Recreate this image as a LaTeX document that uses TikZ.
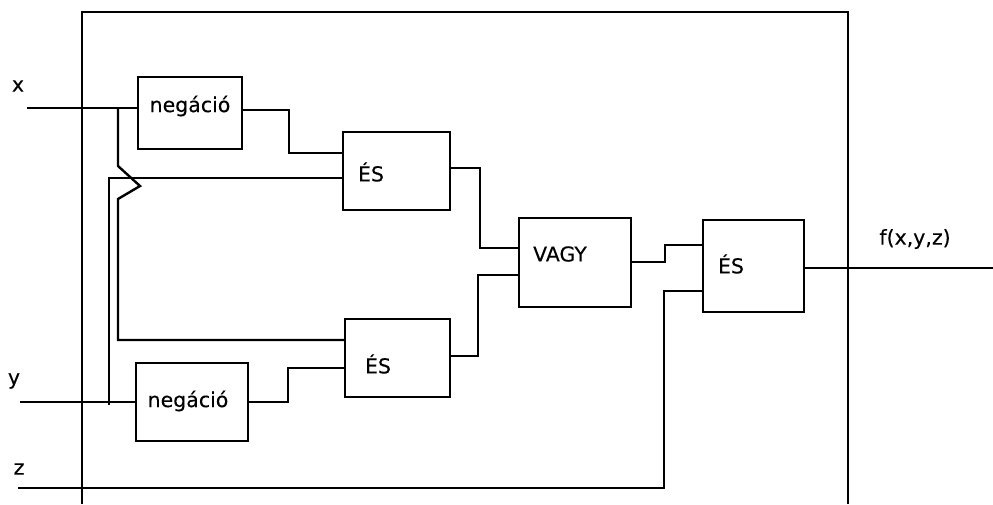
\documentclass[tikz,border=0pt]{standalone}
\usepackage{fontspec}
\setmainfont{DejaVu Sans}
\tikzset{
  x=1pt,y=-1pt,
  gate/.style={draw=black,line width=2.5pt,fill=none,inner sep=0pt,outer sep=0pt},
  wire/.style={draw=black,line width=2.4pt,line join=miter},
  thinwire/.style={draw=black,line width=1.3pt},
  lab/.style={inner sep=0pt,outer sep=0pt,font=\fontsize{20.5}{24}\selectfont\addfontfeature{FakeBold=0.2},text=black}
}
\newcommand{\gatebox}[5]{%
  \node[gate,minimum width=#4pt-#2pt,minimum height=#5pt-#3pt] (#1) at ({(#2+#4)/2},{(#3+#5)/2}) {};
}
\begin{document}
\begin{tikzpicture}
\useasboundingbox (0,0) rectangle (993,504);
% frame
\coordinate (fbl) at (82,504); \coordinate (ftl) at (82,12);
\coordinate (ftr) at (848,12); \coordinate (fbr) at (848,504);
\draw[wire,line width=2.5pt] (fbl) -- (ftl) -- (ftr) -- (fbr);
% boxes
\gatebox{negA}{138}{77}{242}{149}
\gatebox{negB}{136}{363}{248}{441}
\gatebox{esA}{343}{132}{450}{210}
\gatebox{esB}{345}{319}{450}{397}
\gatebox{vagy}{519}{218}{631}{307}
\gatebox{esC}{703}{220}{804}{312}
% box texts
\node[lab] (tnegA) at (190,106) {negáció};
\node[lab] (tnegB) at (188,401) {negáció};
\node[lab] (tesA) at (371,172) {ÉS};
\node[lab] (tesB) at (378,364) {ÉS};
\node[lab] (tvagy) at (560,254) {VAGY};
\node[lab] (tesC) at (731,264) {ÉS};
% terminals
\node[lab] (lx) at (18,86) {x};
\node[lab] (ly) at (14,381) {y};
\node[lab] (lz) at (19,469) {z};
\node[lab] (lf) at (915,239) {f(x,y,z)};
\coordinate (inx) at (27,108);
\coordinate (iny) at (20,402);
\coordinate (inz) at (18,488);
\coordinate (outf) at (993,268);
% routing levels
\coordinate (a1) at (289,110); \coordinate (a2) at (289,153);
\coordinate (b1) at (288,402); \coordinate (b2) at (288,368);
\coordinate (c1) at (480,168); \coordinate (c2) at (480,248);
\coordinate (d1) at (478,356); \coordinate (d2) at (478,275);
\coordinate (e1) at (665,262); \coordinate (e2) at (665,245);
\coordinate (z1) at (664,488); \coordinate (z2) at (664,291);
\coordinate (o1) at (804,268);
% x branch with the jog over the y branch line
\coordinate (j0) at (118,108); \coordinate (j1) at (118,166);
\coordinate (j2) at (140,186); \coordinate (j3) at (118,199);
\coordinate (j4) at (118,340);
% y branch
\coordinate (k0) at (109,405); \coordinate (k1) at (109,178);
% inputs
\draw[wire] (inx) -- (inx -| negA.west);
\draw[wire] (iny) -- (iny -| negB.west);
\draw[wire] (inz) -- (z1) -- (z2) -- (z2 -| esC.west);
\draw[wire] (o1 -| esC.east) -- (outf);
% gate to gate
\draw[wire] (a1 -| negA.east) -- (a1) -- (a2) -- (a2 -| esA.west);
\draw[wire] (b1 -| negB.east) -- (b1) -- (b2) -- (b2 -| esB.west);
\draw[wire] (c1 -| esA.east) -- (c1) -- (c2) -- (c2 -| vagy.west);
\draw[wire] (d1 -| esB.east) -- (d1) -- (d2) -- (d2 -| vagy.west);
\draw[wire] (e1 -| vagy.east) -- (e1) -- (e2) -- (e2 -| esC.west);
% branches
\draw[wire] (j0) -- (j1) -- (j2) -- (j3) -- (j4) -- (j4 -| esB.west);
\draw[thinwire] (k0) -- (k1) -- (k1 -| esA.west);
\end{tikzpicture}
\end{document}
